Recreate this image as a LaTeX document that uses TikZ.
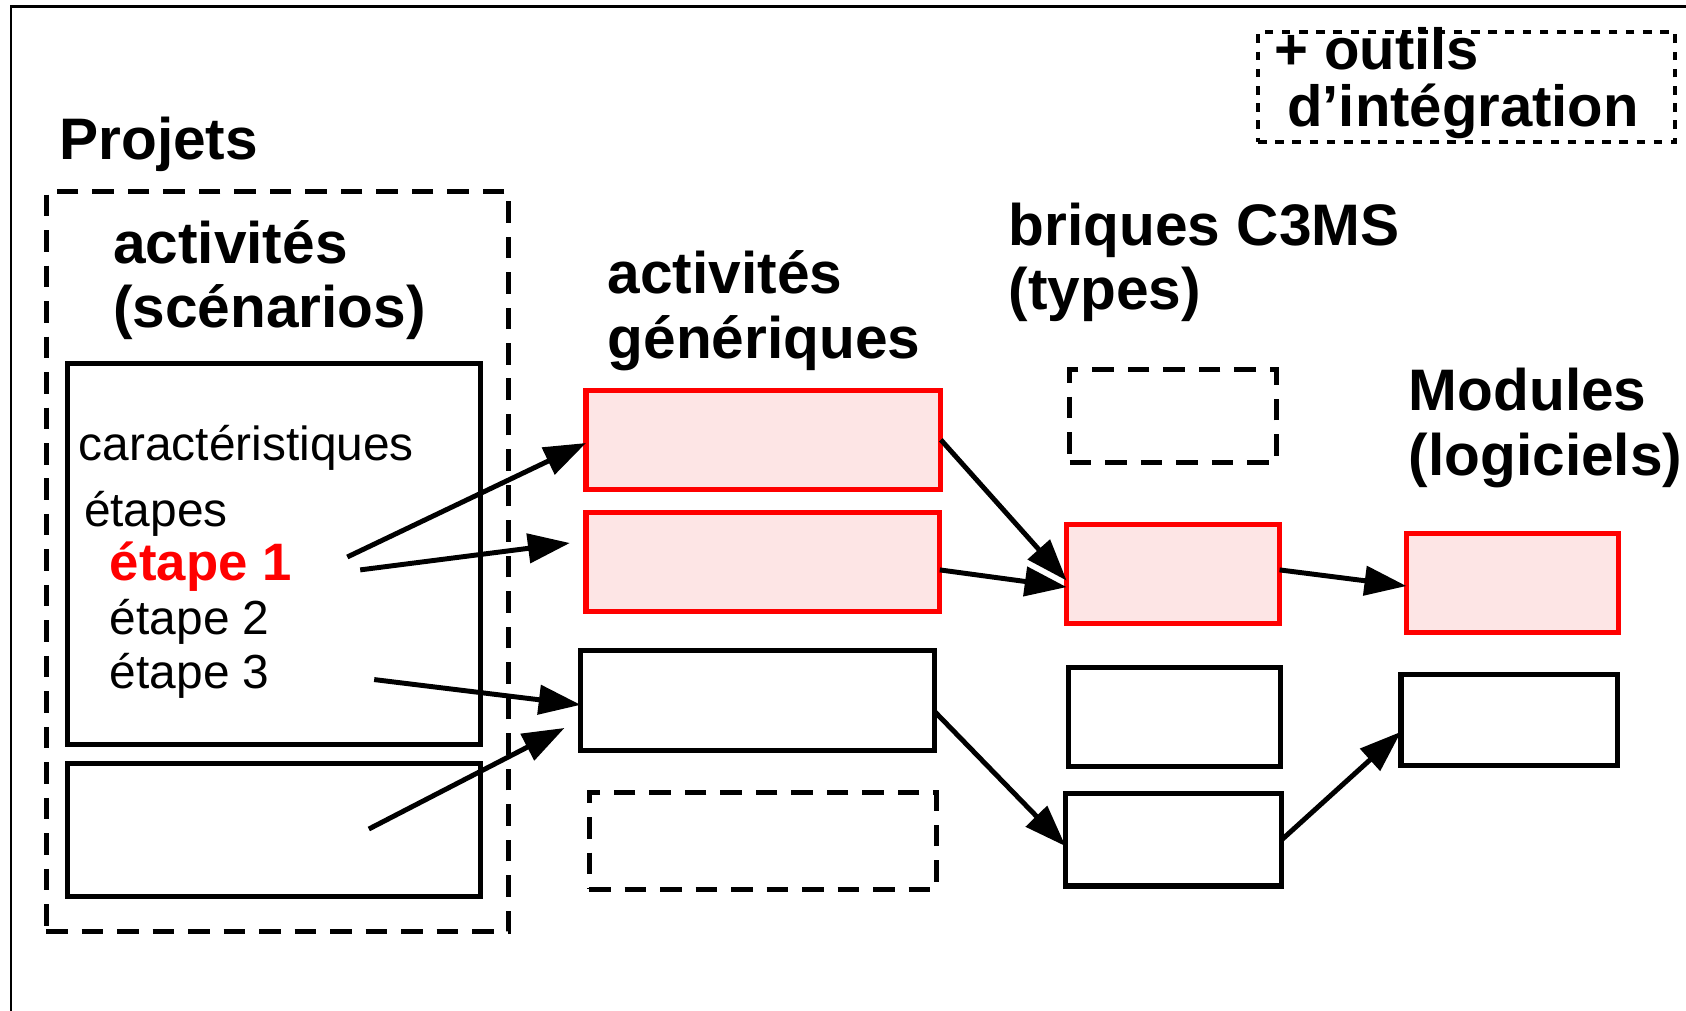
\documentclass[tikz,border=0pt]{standalone}
\usepackage{fontspec}
\setmainfont{Liberation Sans}
\usetikzlibrary{arrows.meta}
\definecolor{pinkfill}{RGB}{253,229,229}
\definecolor{pred}{RGB}{255,0,0}
\begin{document}
\begin{tikzpicture}[x=1pt,y=-1pt,
  solidbox/.style={draw=black,line width=4.8pt,inner sep=0pt,outer sep=0pt},
  redbox/.style={draw=pred,fill=pinkfill,line width=4.8pt,inner sep=0pt,outer sep=0pt},
  dashbox/.style={draw=black,line width=4.5pt,dash pattern=on 20pt off 13pt,inner sep=0pt,outer sep=0pt},
  dotbox/.style={draw=black,line width=4pt,dash pattern=on 8pt off 8pt,inner sep=0pt,outer sep=0pt},
  arr/.style={line width=4.6pt,-{Triangle[length=39pt,width=27pt]}},
  title/.style={font=\fontsize{54.5}{60}\selectfont\bfseries,align=left,anchor=base west,inner sep=0pt},
  txt/.style={font=\fontsize{44.5}{50}\selectfont,anchor=base west,inner sep=0pt}]
\useasboundingbox (0,0) rectangle (1568,940);
% frame
\draw[line width=2.2pt] (10,940) -- (10,6) -- (1568,6);
% outils box (anchor: baseline of the last line)
\node[dotbox,minimum width=388pt,minimum height=102pt] (O) at (1364,81) {};
\node[font=\fontsize{54}{53}\selectfont\bfseries,align=left,anchor=base west,inner sep=0pt] (Ot) at (1185,118) {+ outils\\\hspace{12pt}d’intégration};
% titles (multi-line: anchor at baseline of the last line)
\node[title] (Pt) at (55,148) {Projets};
\node[title] (At) at (105,305) {activités\\(scénarios)};
\node[title] (Gt) at (565,333) {activités\\génériques};
\node[title] (Bt) at (938,288) {briques C3MS\\(types)};
\node[title] (Mt) at (1310,442) {Modules\\(logiciels)};
% project boxes
\node[dashbox,minimum width=430pt,minimum height=688pt] (P) at (258,522) {};
\node[solidbox,minimum width=384pt,minimum height=354pt] (S1) at (255,515) {};
\node[solidbox,minimum width=384pt,minimum height=124pt] (S2) at (255,772) {};
\node[txt] (car) at (73,428) {caractéristiques};
\node[txt] (et) at (78,490) {étapes};
\node[txt,font=\fontsize{49}{50}\selectfont\bfseries,text=pred] (e1) at (102,540) {étape 1};
\node[txt] (e2) at (102,590) {étape 2};
\node[txt] (e3) at (102,640) {étape 3};
% generic activities
\node[redbox,minimum width=330pt,minimum height=92pt] (A) at (710,409) {};
\node[redbox,minimum width=329pt,minimum height=92pt] (B) at (709.5,523) {};
\node[solidbox,minimum width=329pt,minimum height=93pt] (C) at (704.5,651.5) {};
\node[dashbox,minimum width=323pt,minimum height=90pt] (D) at (709.5,782) {};
% briques
\node[dashbox,minimum width=192pt,minimum height=86pt] (E) at (1091,387) {};
\node[redbox,minimum width=198pt,minimum height=92pt] (F) at (1091,534) {};
\node[solidbox,minimum width=197pt,minimum height=92pt] (G) at (1092.5,667) {};
\node[solidbox,minimum width=201pt,minimum height=86pt] (H) at (1091.5,781) {};
% modules
\node[redbox,minimum width=197pt,minimum height=92pt] (I) at (1406.5,542) {};
\node[solidbox,minimum width=201pt,minimum height=85pt] (J) at (1403.5,669.5) {};
% arrow free ends
\coordinate (s1) at (323,518);
\coordinate (s2) at (335,530);
\coordinate (s3) at (348,632);
\coordinate (s4) at (343,771);
\coordinate (t2) at (530,505);
\coordinate (t4) at (525,677);
% arrows
\draw[arr] (s1) -- ([yshift=-3pt]A.west);
\draw[arr] (s2) -- (t2);
\draw[arr] (s3) -- ([yshift=-4pt]C.west);
\draw[arr] (s4) -- (t4);
\draw[arr] (A.east) -- ([yshift=-6pt]F.west);
\draw[arr] ([yshift=-7pt]B.east) -- ([yshift=-12pt]F.west);
\draw[arr] ([yshift=-10pt]C.east) -- ([yshift=-6pt]H.west);
\draw[arr] ([yshift=4pt]F.east) -- ([yshift=-3pt]I.west);
\draw[arr] (H.east) -- ([yshift=-11pt]J.west);
\end{tikzpicture}
\end{document}
